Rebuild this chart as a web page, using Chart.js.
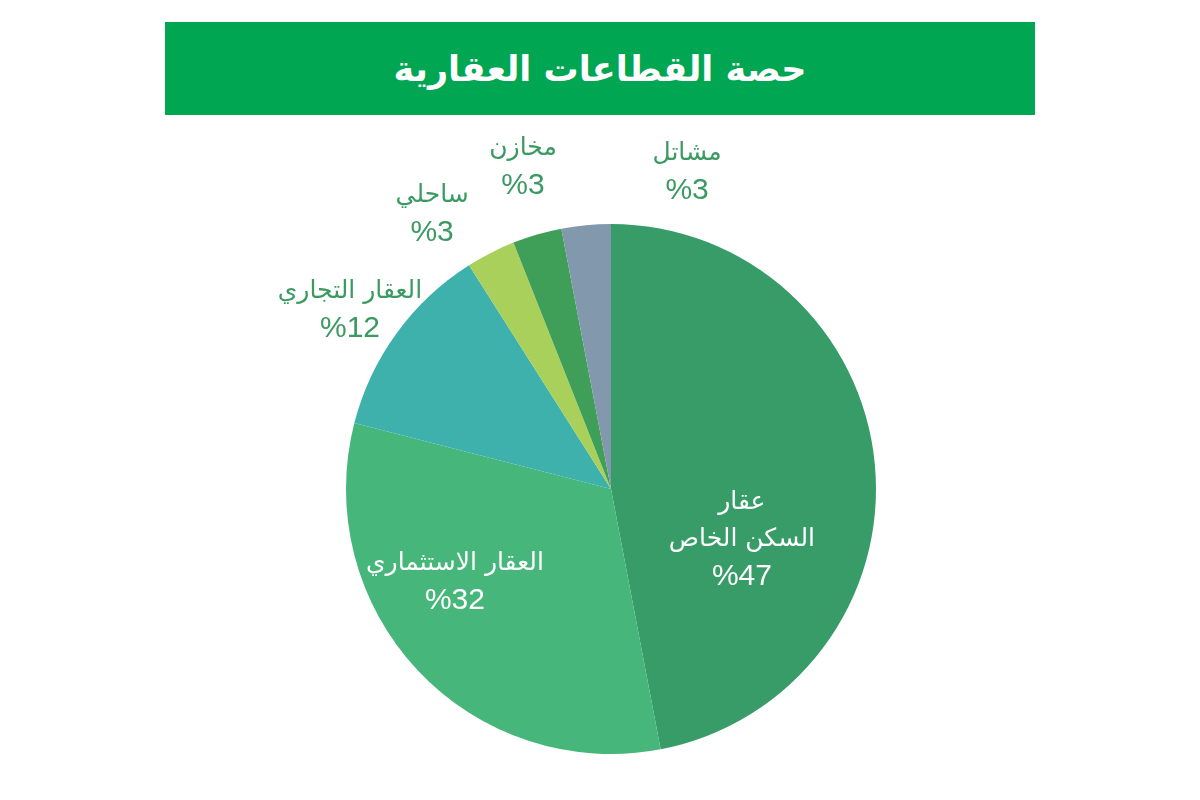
<!DOCTYPE html>
<html lang="ar">
<head>
<meta charset="utf-8">
<title>حصة القطاعات العقارية</title>
<script src="https://cdn.jsdelivr.net/npm/chart.js@4.4.1/dist/chart.umd.min.js"></script>
<style>
  html, body { margin: 0; padding: 0; background: #fff; }
  #wrap { position: relative; width: 1200px; height: 800px; }
  #banner {
    position: absolute; left: 165px; top: 22px; width: 870px; height: 93px;
    background: #00a651; color: #fff;
    font: bold 35px "DejaVu Sans", sans-serif;
    display: flex; align-items: center; justify-content: center;
    direction: rtl;
  }
  #chart { position: absolute; left: 0; top: 0; }
</style>
</head>
<body>
<div id="wrap">
  <div id="banner">حصة القطاعات العقارية</div>
  <canvas id="chart" width="1200" height="800"></canvas>
</div>
<script>
// Share of real-estate sectors (%), clockwise from 12 o'clock
const sectors = [
  ['عقار', 'السكن الخاص'],
  ['العقار الاستثماري'],
  ['العقار التجاري'],
  ['ساحلي'],
  ['مخازن'],
  ['مشاتل'],
];
const shares = [47, 32, 12, 3, 3, 3];
const colors = ['#389c69', '#46b67b', '#3fb1ad', '#a8d05a', '#3f9e58', '#8298ad'];

// label anchor, relative to the pie centre in units of radius
const labelAnchor = [
  [0.494, 0.192], [-0.589, 0.351], [-0.985, -0.675],
  [-0.675, -1.038], [-0.332, -1.215], [0.287, -1.196],
];
const labelInside = [true, true, false, false, false, false];

const sliceLabels = {
  id: 'sliceLabels',
  afterDatasetsDraw(chart) {
    const ctx = chart.ctx;
    const meta = chart.getDatasetMeta(0);
    ctx.save();
    ctx.textAlign = 'center';
    ctx.textBaseline = 'middle';
    meta.data.forEach((arc, i) => {
      const r = arc.outerRadius;
      const cx = arc.x + labelAnchor[i][0] * r;
      const cy = arc.y + labelAnchor[i][1] * r;
      const lines = sectors[i].concat(['%' + shares[i]]);
      const lh = 37;
      const y0 = cy - (lines.length - 1) * lh / 2;
      ctx.fillStyle = labelInside[i] ? '#ffffff' : '#3b9a62';
      lines.forEach((t, k) => {
        const pct = k === lines.length - 1;
        ctx.direction = pct ? 'ltr' : 'rtl';
        ctx.font = pct ? '30px "Liberation Sans", sans-serif' : '25px "DejaVu Sans", sans-serif';
        ctx.fillText(t, cx, y0 + k * lh);
      });
    });
    ctx.restore();
  },
};

new Chart(document.getElementById('chart'), {
  type: 'pie',
  data: {
    labels: sectors.map((s) => s.join(' ')),
    datasets: [{
      data: shares,
      backgroundColor: colors,
      borderWidth: 0,
    }],
  },
  options: {
    responsive: false,
    animation: false,
    layout: { padding: { top: 224, bottom: 46, left: 22, right: 0 } },
    plugins: {
      legend: { display: false },
      tooltip: { enabled: false },
    },
  },
  plugins: [sliceLabels],
});
</script>
</body>
</html>
